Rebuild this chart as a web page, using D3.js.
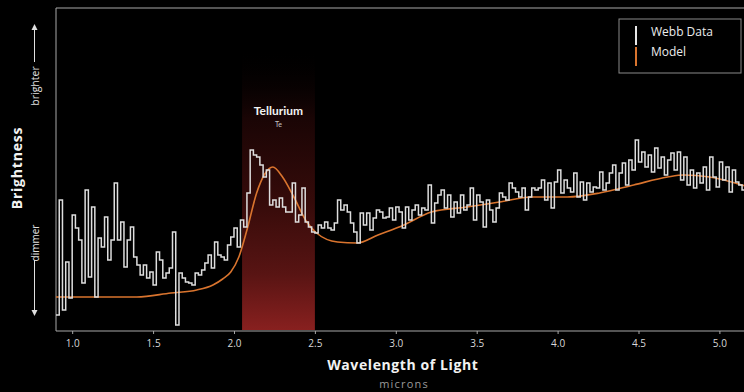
<!DOCTYPE html>
<html>
<head>
<meta charset="utf-8">
<script src="https://cdn.jsdelivr.net/npm/d3@7"></script>
<style>
  html, body { margin: 0; padding: 0; background: #000; }
  svg { display: block; }
</style>
</head>
<body>
<svg id="chart" width="744" height="392"></svg>
<script>
// Spectrum: binned brightness, bins of equal width starting at binStart (microns)
const binStart = 0.90;
const binWidth = 0.02;
const webbShort = [ // 0.90 – 1.98 µm
  0.15, 1.30, 0.20, 0.68, 0.32, 1.15, 1.02, 0.90, 0.47, 1.40, 0.53, 1.23, 0.33, 0.92, 0.83, 1.13, 0.70, 0.90,
  1.47, 0.90, 1.08, 0.63, 0.90, 1.03, 0.73, 0.65, 0.55, 0.65, 0.52, 0.58, 0.45, 0.78, 0.70, 0.52, 0.57, 0.62,
  0.98, 0.05, 0.57, 0.52, 0.48, 0.47, 0.45, 0.57, 0.55, 0.60, 0.67, 0.75, 0.62, 0.88, 0.75, 0.73, 0.70, 0.85
];
const webbTellurium = [ // 1.98 – 3.04 µm
  0.93, 1.02, 0.83, 1.10, 1.03, 1.37, 1.80, 1.75, 1.73, 1.65, 1.53, 1.60, 1.25, 1.30, 1.23, 1.32, 1.23, 1.18,
  1.18, 1.47, 1.08, 1.15, 1.42, 1.08, 1.03, 0.98, 0.97, 1.05, 1.02, 1.08, 1.02, 1.00, 1.07, 1.30, 1.20, 1.25,
  1.18, 1.07, 0.98, 0.87, 1.17, 1.05, 1.17, 1.00, 1.12, 1.20, 1.18, 1.12, 1.13, 1.22, 1.10, 1.23, 1.18
];
const webbMid = [ // 3.04 – 4.08 µm
  1.02, 1.23, 1.10, 1.20, 1.25, 1.15, 1.22, 1.20, 1.45, 1.07, 1.27, 1.35, 1.40, 1.22, 1.35, 1.13, 1.28, 1.17,
  1.35, 1.20, 1.25, 1.42, 1.10, 1.35, 1.28, 1.03, 1.30, 1.20, 1.08, 1.22, 1.37, 1.33, 1.30, 1.47, 1.42, 1.38,
  1.33, 1.42, 1.20, 1.33, 1.42, 1.40, 1.42, 1.50, 1.30, 1.47, 1.22, 1.48, 1.60, 1.37, 1.50, 1.42
];
const webbLong = [ // 4.08 – 5.16 µm
  1.38, 1.57, 1.33, 1.48, 1.30, 1.47, 1.38, 1.43, 1.42, 1.58, 1.40, 1.47, 1.57, 1.65, 1.40, 1.57, 1.67, 1.45,
  1.70, 1.60, 1.90, 1.68, 1.78, 1.63, 1.75, 1.58, 1.82, 1.62, 1.73, 1.55, 1.70, 1.77, 1.60, 1.78, 1.50, 1.73,
  1.45, 1.60, 1.42, 1.57, 1.47, 1.63, 1.40, 1.73, 1.53, 1.43, 1.68, 1.50, 1.63, 1.38, 1.60, 1.48, 1.45, 1.40
];

// Model spectrum
const modelWavelength = [0.90, 1.17, 1.40, 1.61, 1.77, 1.87, 1.93, 1.98, 2.03, 2.08, 2.14, 2.19, 2.24, 2.30,
  2.37, 2.45, 2.51, 2.64, 2.76, 2.89, 3.05, 3.22, 3.44, 3.64, 3.84, 4.06, 4.26, 4.47, 4.68, 4.78, 4.94, 5.16];
const modelBrightness = [0.33, 0.33, 0.33, 0.37, 0.40, 0.45, 0.51, 0.58, 0.73, 1.00, 1.37, 1.56, 1.63, 1.53,
  1.33, 1.08, 0.97, 0.88, 0.87, 0.95, 1.05, 1.18, 1.23, 1.28, 1.33, 1.33, 1.37, 1.45, 1.53, 1.55, 1.53, 1.44];

const xTicks = [1.0, 1.5, 2.0, 2.5, 3.0, 3.5, 4.0, 4.5, 5.0];
const band = { label: "Tellurium", symbol: "Te", from: 2.05, to: 2.5 };
const legendItems = [
  { name: "Webb Data", color: "#e6e6e6" },
  { name: "Model", color: "#d9742e" }
];

const webb = [...webbShort, ...webbTellurium, ...webbMid, ...webbLong];

const W = 744, H = 392;
const plot = { left: 56, right: 744, top: 8, bottom: 330 };

const x = d3.scaleLinear().domain([0.9, 5.152]).range([plot.left, plot.right]);
const y = d3.scaleLinear().domain([0, 3.2]).range([plot.bottom, plot.top + 2]);

const svg = d3.select("#chart");
const defs = svg.append("defs");

defs.append("clipPath").attr("id", "plotClip")
  .append("rect")
  .attr("x", plot.left).attr("y", plot.top)
  .attr("width", plot.right - plot.left).attr("height", plot.bottom - plot.top);

const grad = defs.append("linearGradient").attr("id", "bandGrad")
  .attr("x1", 0).attr("y1", 0).attr("x2", 0).attr("y2", 1);
[
  [0, "#000000", 0],
  [0.25, "#1a0505", 1],
  [0.55, "#360b0a", 1],
  [0.8, "#581413", 1],
  [1, "#88201f", 1]
].forEach(([o, c, a]) => grad.append("stop").attr("offset", o).attr("stop-color", c).attr("stop-opacity", a));

svg.append("rect").attr("width", W).attr("height", H).attr("fill", "#000");

// Absorption band
svg.append("rect")
  .attr("x", x(band.from)).attr("y", plot.top + 40)
  .attr("width", x(band.to) - x(band.from))
  .attr("height", plot.bottom - plot.top - 40)
  .attr("fill", "url(#bandGrad)");

svg.append("text")
  .attr("x", (x(band.from) + x(band.to)) / 2).attr("y", 115)
  .attr("text-anchor", "middle")
  .attr("font-family", "Lato, 'Open Sans', sans-serif")
  .attr("font-weight", 700).attr("font-size", 12).attr("fill", "#f2f2f2")
  .text(band.label);
svg.append("text")
  .attr("x", (x(band.from) + x(band.to)) / 2).attr("y", 127)
  .attr("text-anchor", "middle")
  .attr("font-family", "Lato, 'Open Sans', sans-serif")
  .attr("font-size", 7).attr("fill", "#c4c4c4")
  .text(band.symbol);

// Frame
const frameColor = "#a8a8a8";
svg.append("path")
  .attr("d", `M${plot.right + 2},${plot.top} H${plot.left} V${plot.bottom + 1}`)
  .attr("fill", "none").attr("stroke", frameColor).attr("stroke-width", 1);

// X axis
const xAxis = d3.axisBottom(x).tickValues(xTicks).tickFormat(d3.format(".1f"))
  .tickSize(3).tickPadding(6);
const gx = svg.append("g").attr("transform", `translate(0,${plot.bottom + 1})`).call(xAxis);
gx.select(".domain").attr("stroke", frameColor).attr("d", `M${plot.left},0H${plot.right}`);
gx.selectAll(".tick line").attr("stroke", frameColor);
gx.selectAll(".tick text")
  .attr("fill", "#d8d8d8")
  .attr("font-family", "'Liberation Sans Narrow', 'Open Sans', sans-serif")
  .attr("font-size", 10);

// Data and model lines
const gPlot = svg.append("g").attr("clip-path", "url(#plotClip)");

const modelPts = modelWavelength.map((w, i) => [w, modelBrightness[i]]);
gPlot.append("path")
  .datum(modelPts)
  .attr("fill", "none")
  .attr("stroke", "#d9742e")
  .attr("stroke-width", 1.6)
  .attr("d", d3.line().x(d => x(d[0])).y(d => y(d[1])).curve(d3.curveMonotoneX));

const steps = webb.map((v, i) => [binStart + i * binWidth, v]);
steps.push([binStart + webb.length * binWidth, webb[webb.length - 1]]);
gPlot.append("path")
  .datum(steps)
  .attr("fill", "none")
  .attr("stroke", "#dedede")
  .attr("stroke-width", 1.5)
  .attr("stroke-linejoin", "miter")
  .attr("d", d3.line().x(d => x(d[0])).y(d => y(d[1])).curve(d3.curveStepAfter));

// Legend
const lg = svg.append("g").attr("transform", "translate(619,19)");
lg.append("rect").attr("width", 122).attr("height", 54)
  .attr("fill", "#000").attr("stroke", "#8a8a8a").attr("stroke-width", 1);
legendItems.forEach((d, i) => {
  lg.append("line")
    .attr("x1", 17).attr("x2", 17)
    .attr("y1", 7 + i * 21).attr("y2", 26 + i * 21)
    .attr("stroke", d.color).attr("stroke-width", 2);
  lg.append("text")
    .attr("x", 32).attr("y", 17 + i * 20)
    .attr("font-family", "'Open Sans', sans-serif")
    .attr("font-size", 12).attr("fill", "#ececec")
    .text(d.name);
});

// Axis titles
svg.append("text")
  .attr("x", (x(1.0) + x(5.0)) / 2 + 7).attr("y", 370)
  .attr("text-anchor", "middle")
  .attr("font-family", "'Open Sans', sans-serif")
  .attr("font-weight", 700).attr("font-size", 14).attr("letter-spacing", 0.6)
  .attr("fill", "#f2f2f2")
  .text("Wavelength of Light");
svg.append("text")
  .attr("x", 404).attr("y", 388)
  .attr("text-anchor", "middle")
  .attr("font-family", "'Open Sans', sans-serif")
  .attr("font-size", 11).attr("letter-spacing", 1.2)
  .attr("fill", "#9a9a9a")
  .text("microns");

svg.append("text")
  .attr("transform", "translate(22,168) rotate(-90)")
  .attr("text-anchor", "middle")
  .attr("font-family", "'Open Sans', sans-serif")
  .attr("font-weight", 700).attr("font-size", 14).attr("letter-spacing", 0.8)
  .attr("fill", "#f2f2f2")
  .text("Brightness");

const hint = svg.append("g").attr("fill", "#e0e0e0").attr("stroke", "#e0e0e0");
hint.append("text")
  .attr("transform", "translate(38.5,86) rotate(-90)")
  .attr("text-anchor", "middle").attr("stroke", "none")
  .attr("font-family", "'Open Sans', sans-serif").attr("font-size", 10.5)
  .text("brighter");
hint.append("text")
  .attr("transform", "translate(38.5,243) rotate(-90)")
  .attr("text-anchor", "middle").attr("stroke", "none")
  .attr("font-family", "'Open Sans', sans-serif").attr("font-size", 10)
  .text("dimmer");
hint.append("line").attr("x1", 34.5).attr("x2", 34.5).attr("y1", 62).attr("y2", 28).attr("stroke-width", 1);
hint.append("path").attr("d", "M31.5,30 L34.5,24 L37.5,30 Z").attr("stroke", "none");
hint.append("line").attr("x1", 34.5).attr("x2", 34.5).attr("y1", 260).attr("y2", 312).attr("stroke-width", 1);
hint.append("path").attr("d", "M31.5,310 L34.5,316 L37.5,310 Z").attr("stroke", "none");
</script>
</body>
</html>
